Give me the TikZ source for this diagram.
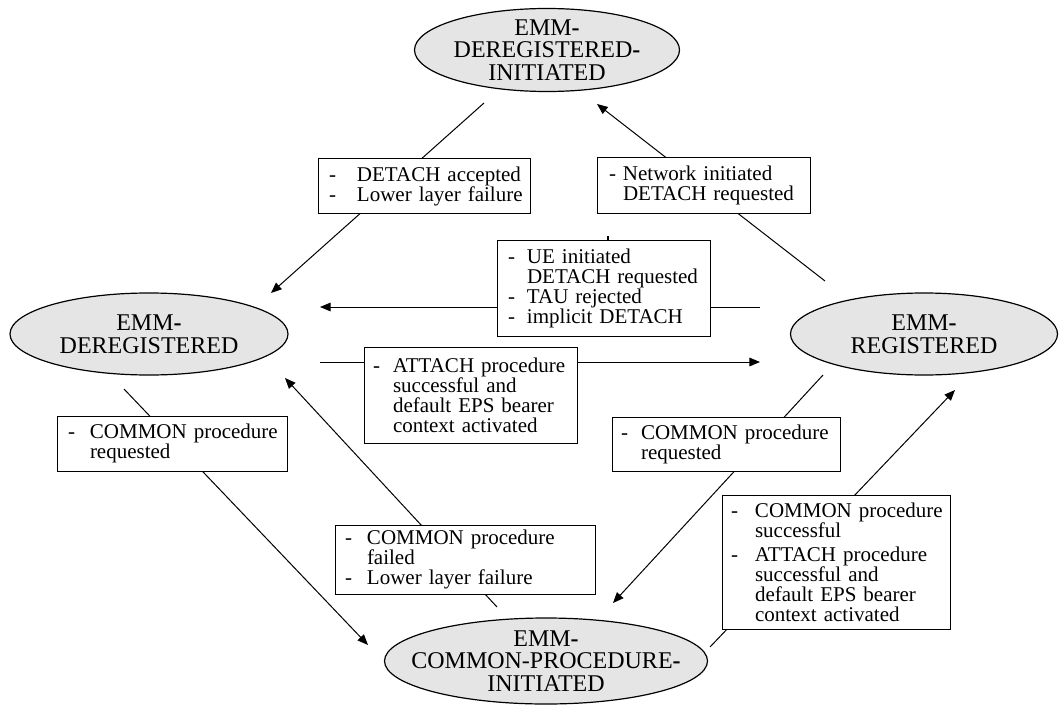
\documentclass[tikz,border=0pt]{standalone}
\usepackage{fontspec}
\setmainfont{Liberation Serif}
\usetikzlibrary{arrows.meta,shapes.geometric}
\definecolor{stfill}{RGB}{229,229,229}
\newlength\pxu
\setlength\pxu{0.75pt}
\newcommand\dashln[3]{\hspace*{#1\pxu}\makebox[\dimexpr\pxu*(#2-#1)\relax][l]{-}#3}
\newcommand\contln[2]{\hspace*{#1\pxu}#2}
\begin{document}
\begin{tikzpicture}[x=0.75pt,y=-0.75pt,
  st/.style={ellipse, draw, line width=0.9pt, fill=stfill, inner sep=0pt},
  sttext/.style={align=center, font=\fontsize{18}{17}\selectfont, inner sep=0pt},
  lbl/.style={rectangle, draw, line width=0.75pt, fill=white, inner xsep=0pt, inner ysep=0pt, align=left, font=\fontsize{15.75}{15}\selectfont},
  arr/.style={line width=0.75pt, -{Triangle[length=8pt,width=6.5pt]}},
  tickmark/.style={line width=1.5pt}]
\useasboundingbox (0,0) rectangle (1059,706);
% states
\node[st, minimum width=198.75pt, minimum height=62.25pt] (dreginit) at (547,50) {};
\node[sttext] (dreginit-t) at (dreginit.center) {EMM\textbf{-}\\DEREGISTERED\textbf{-}\\INITIATED};
\node[st, minimum width=208.5pt, minimum height=61.5pt] (dereg) at (149,334) {};
\node[sttext] (dereg-t) at (dereg.center) {EMM\textbf{-}\\DEREGISTERED};
\node[st, minimum width=200.25pt, minimum height=61.5pt] (reg) at (924,334) {};
\node[sttext] (reg-t) at (reg.center) {EMM\textbf{-}\\REGISTERED};
\node[st, minimum width=242.25pt, minimum height=64.5pt] (cpi) at (546,661) {};
\node[sttext] (cpi-t) at (cpi.center) {EMM\textbf{-}\\COMMON-PROCEDURE\textbf{-}\\INITIATED};
% connector ends
\coordinate (a1s) at (484,103); \coordinate (a1e) at (271,293);
\coordinate (a2s) at (825,281); \coordinate (a2e) at (597,104);
\coordinate (a3s) at (760,307); \coordinate (a3e) at (320,307);
\coordinate (a4s) at (320,362); \coordinate (a4e) at (760,362);
\coordinate (a5s) at (124,389); \coordinate (a5e) at (368,645);
\coordinate (a6s) at (497,607); \coordinate (a6e) at (285,378);
\coordinate (a7s) at (823,375); \coordinate (a7e) at (613,603);
\coordinate (a8s) at (710,647); \coordinate (a8e) at (955,390);
% connectors
\draw[arr] (a1s) -- (a1e);
\draw[arr] (a2s) -- (a2e);
\draw[arr] (a3s) -- (a3e);
\draw[arr] (a4s) -- (a4e);
\draw[arr] (a5s) -- (a5e);
\draw[arr] (a6s) -- (a6e);
\draw[arr] (a7s) -- (a7e);
\draw[arr] (a8s) -- (a8e);
% labels
\node[lbl, text width=159pt, minimum height=40.5pt] (lA) at (424,186)
  {\dashln{11}{39}{DETACH accepted}\\\dashln{11}{39}{Lower layer failure}};
\node[lbl, text width=159.75pt, minimum height=41.25pt] (lB) at (703.5,185.5)
  {\dashln{12}{26}{Network initiated}\\\contln{26}{DETACH requested}};
\node[lbl, text width=159.75pt, minimum height=72pt] (lC) at (603.5,288)
  {\dashln{11}{30}{UE initiated}\\\contln{30}{DETACH requested}\\\dashln{11}{30}{TAU rejected}\\\dashln{11}{30}{implicit DETACH}};
\draw[tickmark] ([xshift=3.4pt]lC.north) -- ++(0,-4);
\node[lbl, text width=159.75pt, minimum height=72pt] (lD) at (470.5,395)
  {\dashln{9}{29}{ATTACH procedure}\\\contln{29}{successful and}\\\contln{29}{default EPS bearer}\\\contln{29}{context activated}};
\node[lbl, text width=172.5pt, minimum height=41.25pt] (lE) at (172,443.5)
  {\dashln{11}{33}{COMMON procedure}\\\contln{33}{requested}};
\node[lbl, text width=171pt, minimum height=40.5pt] (lF) at (726,444)
  {\dashln{9}{29}{COMMON procedure}\\\contln{29}{requested}};
\node[lbl, text width=195pt, minimum height=51.75pt] (lG) at (465,559.5)
  {\dashln{10}{32}{COMMON procedure}\\\contln{32}{failed}\\\dashln{10}{32}{Lower layer failure}};
\node[lbl, text width=171pt, minimum height=100.5pt] (lH) at (836,562)
  {\dashln{9}{33}{COMMON procedure}\\\contln{33}{successful}\\[3pt]\dashln{9}{33}{ATTACH procedure}\\\contln{33}{successful and}\\\contln{33}{default EPS bearer}\\\contln{33}{context activated}};
\end{tikzpicture}
\end{document}
